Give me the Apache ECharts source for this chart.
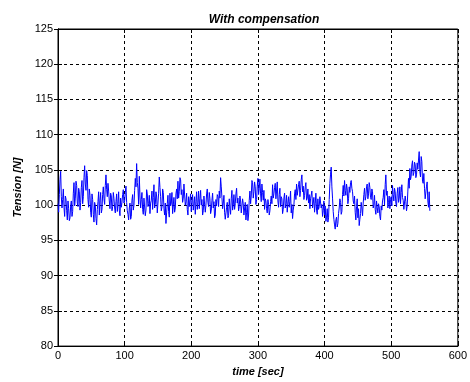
<!DOCTYPE html>
<html>
<head>
<meta charset="utf-8">
<script src="https://cdn.jsdelivr.net/npm/echarts@6/dist/echarts.min.js"></script>
<style>html,body{margin:0;padding:0;background:#fff}#c{width:470px;height:382px}</style>
</head>
<body>
<div id="c"></div>
<script>
const titleText = 'With compensation';
const xName = 'time [sec]';
const yName = 'Tension [N]';
const xTicks = [0, 100, 200, 300, 400, 500, 600];
const yTicks = [80, 85, 90, 95, 100, 105, 110, 115, 120, 125];
const sampleStepSec = 1;
const tension = [
  100.2, 99.0, 101.5, 103.6, 104.8, 101.2, 99.6, 100.8, 102.3, 99.7, 98.4, 101.3, 100.9, 99.2, 97.9, 100.6, 99.5, 97.8, 98.2, 99.9,
  100.6, 98.4, 99.1, 101.7, 103.2, 99.9, 101.0, 103.4, 102.8, 100.3, 99.8, 102.4, 101.9, 99.3, 100.4, 102.5, 103.5, 100.2, 101.2, 103.9,
  105.6, 103.0, 102.1, 104.9, 104.2, 100.8, 99.7, 102.3, 101.4, 99.0, 98.3, 101.6, 100.8, 98.7, 97.6, 100.4, 99.9, 98.1, 97.2, 99.4,
  100.5, 101.9, 98.6, 100.7, 101.8, 98.9, 99.4, 101.5, 102.6, 100.9, 100.1, 102.8, 104.3, 102.2, 101.2, 103.1, 102.0, 100.6, 99.5, 101.7,
  101.3, 99.2, 99.8, 101.8, 100.9, 99.6, 98.9, 100.5, 101.6, 99.1, 100.2, 101.9, 99.3, 98.5, 101.0, 99.7, 100.4, 101.5, 102.2, 100.3,
  100.6, 101.8, 102.7, 100.4, 99.2, 98.7, 97.9, 99.6, 100.3, 98.0, 98.4, 100.7, 101.5, 99.3, 100.0, 102.1, 103.8, 102.6, 105.9, 103.2,
  102.4, 100.1, 104.1, 101.3, 99.6, 100.8, 101.8, 99.4, 98.7, 101.0, 100.9, 98.5, 99.3, 102.2, 101.6, 99.8, 100.2, 101.4, 98.8, 100.3,
  100.7, 102.0, 99.4, 101.1, 102.9, 99.6, 100.1, 101.9, 101.3, 98.9, 99.0, 101.7, 104.0, 102.5, 101.2, 99.2, 99.7, 102.3, 101.8, 99.5,
  98.6, 100.3, 97.4, 98.9, 100.2, 101.4, 99.1, 98.3, 101.7, 99.9, 100.3, 101.8, 98.8, 100.0, 101.1, 99.0, 99.6, 101.6, 102.3, 100.9,
  103.4, 101.0, 101.9, 103.9, 103.6, 101.5, 102.2, 100.4, 101.0, 103.0, 102.8, 100.0, 100.5, 101.7, 99.4, 98.6, 101.2, 99.8, 100.0, 101.6,
  99.1, 100.6, 101.5, 99.3, 100.2, 101.2, 98.7, 100.5, 101.9, 99.4, 100.4, 102.0, 99.5, 100.9, 102.1, 100.0, 100.8, 98.6, 99.2, 101.3,
  101.4, 99.0, 100.0, 101.6, 102.3, 100.4, 99.8, 101.8, 100.9, 98.8, 99.3, 100.7, 101.7, 99.6, 100.5, 98.2, 98.6, 100.8, 99.9, 101.5,
  101.2, 99.8, 102.0, 101.0, 103.9, 102.6, 101.1, 99.5, 100.3, 101.4, 99.0, 98.0, 98.1, 99.7, 100.4, 98.2, 98.5, 100.9, 99.6, 98.7,
  100.9, 102.1, 99.3, 100.0, 101.5, 99.4, 100.2, 101.6, 102.4, 100.3, 101.0, 99.2, 99.8, 101.3, 100.6, 98.9, 99.1, 100.9, 100.2, 98.6,
  98.8, 100.4, 97.9, 99.0, 100.1, 97.8, 98.6, 100.7, 102.0, 100.2, 101.3, 103.5, 103.2, 101.0, 101.9, 103.3, 102.6, 100.1, 100.8, 102.7,
  103.8, 101.5, 102.4, 103.7, 101.6, 100.5, 103.0, 101.8, 100.7, 102.1, 99.4, 100.9, 100.6, 99.5, 98.9, 100.8, 100.1, 98.6, 99.2, 100.5,
  101.3, 100.2, 102.9, 101.0, 101.6, 102.5, 103.1, 100.9, 102.0, 103.3, 100.6, 99.7, 101.5, 102.4, 99.8, 101.2, 100.9, 98.8, 99.4, 101.0,
  101.7, 99.6, 100.2, 101.4, 99.0, 100.3, 101.2, 99.7, 100.5, 102.0, 98.9, 100.1, 98.1, 99.3, 100.0, 101.6, 102.2, 100.8, 103.0, 101.4,
  101.6, 102.9, 103.4, 101.2, 102.1, 103.6, 104.3, 101.9, 102.7, 100.8, 101.4, 102.6, 103.2, 100.7, 101.0, 102.3, 100.3, 101.5, 99.5, 100.9,
  100.8, 102.0, 99.6, 100.3, 101.1, 99.0, 100.2, 101.7, 99.3, 98.7, 100.9, 99.4, 99.8, 101.2, 101.4, 99.6, 100.1, 98.4, 99.2, 100.6,
  98.6, 99.9, 97.7, 98.3, 99.5, 97.6, 98.2, 100.8, 103.1, 104.4, 105.4, 102.6, 101.0, 99.1, 98.0, 97.2, 96.6, 97.9, 98.3, 96.9,
  97.4, 98.8, 99.6, 100.9, 100.4, 98.7, 99.1, 101.5, 102.8, 101.3, 103.5, 102.1, 101.4, 103.0, 102.3, 100.2, 100.9, 102.6, 101.8, 103.2,
  103.5, 102.4, 101.9, 100.6, 100.2, 101.3, 99.0, 97.9, 99.8, 100.9, 98.2, 99.5, 97.1, 98.0, 98.8, 100.4, 99.6, 98.5, 100.3, 101.5,
  102.4, 100.7, 101.2, 102.6, 103.0, 100.9, 101.6, 103.2, 102.5, 101.1, 100.8, 102.3, 101.9, 99.6, 100.1, 101.4, 99.4, 98.7, 100.6, 99.7,
  98.9, 100.2, 99.8, 98.4, 97.9, 99.9, 99.3, 100.6, 101.1, 102.2, 100.0, 102.9, 104.3, 101.4, 102.0, 99.6, 100.4, 101.3, 99.5, 100.8,
  101.2, 99.9, 102.8, 101.5, 100.6, 102.4, 101.9, 100.3, 99.8, 101.7, 102.5, 100.4, 101.0, 102.6, 100.2, 101.8, 102.9, 101.1, 100.7, 99.4,
  99.6, 101.3, 100.5, 99.2, 99.9, 102.0, 103.8, 102.4, 105.2, 103.6, 104.1, 105.7, 106.3, 104.2, 104.6, 106.1, 105.8, 103.9, 104.3, 106.0,
  105.1, 106.4, 107.6, 104.8, 104.0, 106.9, 106.2, 103.4, 103.1, 104.5, 102.4, 100.9, 100.8, 102.7, 103.3, 100.6, 99.7, 101.9, 99.2
];

const seriesData = tension.map((v, i) => [i * sampleStepSec, v]);
const font = 'Arial, "Liberation Sans", sans-serif';
const chart = echarts.init(document.getElementById('c'), null, {renderer: 'canvas'});
const tickInside = {show: true, inside: true, length: 4, lineStyle: {color: '#000', width: 1}};
const grid = {show: true, left: 58, right: 9, top: 29, bottom: 35, borderColor: '#000', borderWidth: 1, backgroundColor: '#fff'};
chart.setOption({
  animation: false,
  backgroundColor: '#fff',
  title: {
    text: titleText, left: 259, top: 9, textAlign: 'center',
    textStyle: {fontFamily: font, fontSize: 12, fontWeight: 'bold', fontStyle: 'italic', color: '#000'}
  },
  grid: grid,
  xAxis: [{
    type: 'value', min: xTicks[0], max: xTicks[xTicks.length - 1], interval: 100,
    name: xName, nameLocation: 'middle', nameGap: 18,
    nameTextStyle: {fontFamily: font, fontSize: 11, fontWeight: 'bold', fontStyle: 'italic', color: '#000'},
    axisLine: {show: true, lineStyle: {color: '#000'}},
    axisTick: tickInside,
    axisLabel: {fontFamily: font, fontSize: 11, color: '#000', margin: 4},
    splitLine: {show: true, lineStyle: {color: '#000', type: [3, 3], width: 1}}
  }, {
    type: 'value', position: 'top', min: xTicks[0], max: xTicks[xTicks.length - 1], interval: 100,
    axisLine: {show: true, lineStyle: {color: '#000'}}, axisTick: tickInside,
    axisLabel: {show: false}, splitLine: {show: false}
  }],
  yAxis: [{
    type: 'value', min: yTicks[0], max: yTicks[yTicks.length - 1], interval: 5,
    name: yName, nameLocation: 'middle', nameGap: 30, nameRotate: 90,
    nameTextStyle: {fontFamily: font, fontSize: 11, fontWeight: 'bold', fontStyle: 'italic', color: '#000'},
    axisLine: {show: true, lineStyle: {color: '#000'}},
    axisTick: tickInside,
    axisLabel: {fontFamily: font, fontSize: 11, color: '#000', margin: 5},
    splitLine: {show: true, lineStyle: {color: '#000', type: [3, 3], width: 1}}
  }, {
    type: 'value', position: 'right', min: yTicks[0], max: yTicks[yTicks.length - 1], interval: 5,
    axisLine: {show: true, lineStyle: {color: '#000'}}, axisTick: tickInside,
    axisLabel: {show: false}, splitLine: {show: false}
  }],
  series: [{
    type: 'line', data: seriesData, xAxisIndex: 0, yAxisIndex: 0,
    showSymbol: false, symbol: 'none',
    lineStyle: {color: '#0000ff', width: 1},
    itemStyle: {color: '#0000ff'}
  }]
});
</script>
</body>
</html>
